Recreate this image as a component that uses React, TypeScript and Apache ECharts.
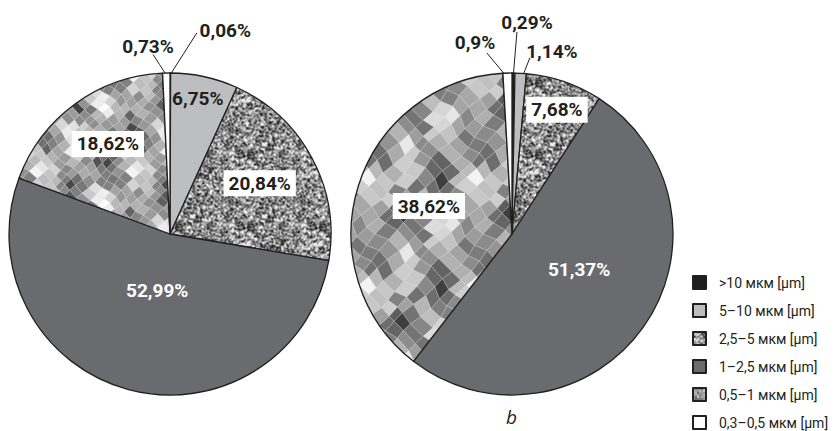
import React, { useEffect, useRef } from "react";
import * as echarts from "echarts";

// Particle size classes (clockwise from 12 o'clock)
const sizeClasses = [
  ">10 мкм [µm]",
  "5–10 мкм [µm]",
  "2,5–5 мкм [µm]",
  "1–2,5 мкм [µm]",
  "0,5–1 мкм [µm]",
  "0,3–0,5 мкм [µm]",
];

// Mass fractions, %
const sampleA = [0.06, 6.75, 20.84, 52.99, 18.62, 0.73];
const sampleB = [0.29, 1.14, 7.68, 51.37, 38.62, 0.9];

const panelCaption = "b";

// ---- layout / style (not data) ----
const PIE_RADIUS = 161;
const centers: [number, number][] = [
  [170, 234],
  [512, 234],
];

type Kind = "outer" | "plain" | "boxed" | "light";
const labelKinds: Kind[][] = [
  ["outer", "plain", "boxed", "light", "boxed", "outer"],
  ["outer", "outer", "boxed", "light", "boxed", "outer"],
];

// label centre in polar form (angle from 12 o'clock, clockwise; radius as fraction of R)
type Placement = { a: number; r: number; line?: [number, number][] };
const placements: Placement[][] = [
  [
    { a: 15.2, r: 1.31, line: [[0.1, 0.99], [7.6, 1.26]] },
    { a: 11.6, r: 0.86 },
    { a: 60.5, r: 0.64 },
    { a: 192.8, r: 0.36 },
    { a: 325.4, r: 0.68 },
    { a: 353.3, r: 1.17, line: [[358.6, 0.99], [354.6, 1.12]] },
  ],
  [
    { a: 4.05, r: 1.32, line: [[0.5, 0.99], [1.4, 1.255]] },
    { a: 12.3, r: 1.163, line: [[3.0, 0.94], [5.8, 1.1]] },
    { a: 19.9, r: 0.82 },
    { a: 117.6, r: 0.47 },
    { a: 288.6, r: 0.545 },
    { a: 349.1, r: 1.214, line: [[357.5, 0.99], [352.1, 1.135]] },
  ],
];

const INK = "#231f20";
const LABEL_FONT = "'Roboto', 'Noto Sans', sans-serif";
const LEGEND_FONT = "'Roboto', 'Noto Sans', sans-serif";

function polar(c: [number, number], deg: number, k: number): [number, number] {
  const t = (deg * Math.PI) / 180;
  return [c[0] + Math.sin(t) * k * PIE_RADIUS, c[1] - Math.cos(t) * k * PIE_RADIUS];
}

// deterministic hash for texture grain
function hash(x: number, y: number, seed: number): number {
  let h = Math.imul(x, 374761393) ^ Math.imul(y, 668265263) ^ Math.imul(seed, 982451653);
  h = Math.imul(h ^ (h >>> 13), 1274126177);
  h = h ^ (h >>> 16);
  return (h >>> 0) / 4294967296;
}

// soft grey grain for the 2,5–5 µm class
function noiseTexture(seed: number): HTMLCanvasElement {
  const n = 72;
  const cv = document.createElement("canvas");
  cv.width = n;
  cv.height = n;
  const ctx = cv.getContext("2d")!;
  const raw: number[][] = [];
  for (let i = 0; i < n; i++) {
    raw.push([]);
    for (let j = 0; j < n; j++) raw[i].push(hash(i, j, seed));
  }
  const w = (v: number) => (v + n) % n;
  const img = ctx.createImageData(n, n);
  for (let i = 0; i < n; i++) {
    for (let j = 0; j < n; j++) {
      let s = 0;
      let wt = 0;
      for (let di = -1; di <= 1; di++) {
        for (let dj = -1; dj <= 1; dj++) {
          const k = di === 0 && dj === 0 ? 2 : di === 0 || dj === 0 ? 1 : 0.5;
          s += raw[w(i + di)][w(j + dj)] * k;
          wt += k;
        }
      }
      s /= wt;
      const g = Math.max(45, Math.min(240, Math.round(140 + (s - 0.5) * 4.4 * 100)));
      const p = (j * n + i) * 4;
      img.data[p] = g;
      img.data[p + 1] = g;
      img.data[p + 2] = g;
      img.data[p + 3] = 255;
    }
  }
  ctx.putImageData(img, 0, 0);
  return cv;
}

// gently warped, faceted diamond mosaic for the 0,5–1 µm class
function quiltTexture(d: number, cells: number, seed: number): HTMLCanvasElement {
  const h = d / 2;
  const W = d * cells;
  const cv = document.createElement("canvas");
  cv.width = W;
  cv.height = W;
  const ctx = cv.getContext("2d")!;
  ctx.fillStyle = "#9a9a9a";
  ctx.fillRect(0, 0, W, W);
  const TAU = Math.PI * 2;
  const warp = (x: number, y: number): [number, number] => [
    x + 0.3 * h * Math.sin(TAU * (x + 2 * y) / W) + 0.15 * h * Math.sin(TAU * (2 * x - y) / W + 0.7),
    y + 0.32 * h * Math.sin(TAU * (2 * x + y) / W + 1.9) + 0.12 * h * Math.cos(TAU * (x - y) / W),
  ];
  const lim = Math.ceil(W / h) + 4;
  for (let a = -lim; a <= lim; a++) {
    for (let b = -lim; b <= lim; b++) {
      const cx = (a - b) * h;
      const cy = (a + b + 1) * h;
      if (cx < -3 * h || cx > W + 3 * h || cy < -3 * h || cy > W + 3 * h) continue;
      const wx = ((cx % W) + W) % W;
      const wy = ((cy % W) + W) % W;
      const u = wx / W;
      const v = wy / W;
      let val =
        0.5 +
        0.2 * Math.sin(TAU * (u + v)) +
        0.15 * Math.sin(TAU * (2 * u - v) + 1.3) +
        0.1 * Math.cos(TAU * (u - 2 * v)) +
        (hash(Math.round(wx / h), Math.round(wy / h), seed) - 0.5) * 0.42;
      val = Math.max(0, Math.min(1, val));
      const g = Math.round(62 + val * 190);
      const pts = [
        warp((a - b) * h, (a + b) * h),
        warp((a + 1 - b) * h, (a + b + 1) * h),
        warp((a - b) * h, (a + b + 2) * h),
        warp((a - b - 1) * h, (a + b + 1) * h),
      ];
      ctx.beginPath();
      ctx.moveTo(pts[0][0], pts[0][1]);
      for (let k = 1; k < 4; k++) ctx.lineTo(pts[k][0], pts[k][1]);
      ctx.closePath();
      ctx.fillStyle = `rgb(${g},${g},${g})`;
      ctx.fill();
      ctx.strokeStyle = "rgba(255,255,255,0.3)";
      ctx.lineWidth = 0.8;
      ctx.stroke();
    }
  }
  return cv;
}

// small mottled swatch used as the legend key of the mosaic class
function swatchTexture(): HTMLCanvasElement {
  const n = 13;
  const cv = document.createElement("canvas");
  cv.width = n;
  cv.height = n;
  const ctx = cv.getContext("2d")!;
  for (let i = 0; i < n; i++) {
    for (let j = 0; j < n; j++) {
      const g = Math.round(150 + (hash(i >> 1, j >> 1, 11) - 0.5) * 90);
      ctx.fillStyle = `rgb(${g},${g},${g})`;
      ctx.fillRect(i, j, 1, 1);
    }
  }
  return cv;
}

function fmt(v: number): string {
  return String(v).replace(".", ",") + "%";
}

function labelStyle(kind: Kind) {
  const base = {
    fontFamily: LABEL_FONT,
    fontWeight: "bold" as const,
    fontSize: 19,
    color: INK,
  };
  if (kind === "boxed") return { ...base, backgroundColor: "#fff", padding: [4, 5, 3, 5] };
  if (kind === "light") return { ...base, color: "#fff" };
  return base;
}

export default function App() {
  const ref = useRef<HTMLDivElement>(null);

  useEffect(() => {
    if (!ref.current) return;
    const chart = echarts.init(ref.current, undefined, { renderer: "svg" });

    const noise = noiseTexture(7);
    const quilts = [quiltTexture(12, 8, 3), quiltTexture(18, 6, 5)];
    const swatch = swatchTexture();

    const fillsFor = (s: number) => [
      "#1f1d1e",
      "#bdbec0",
      { image: noise, repeat: "repeat" },
      "#6a6b6f",
      { image: quilts[s], repeat: "repeat" },
      "#ffffff",
    ];

    const samples = [sampleA, sampleB];

    const series = samples.map((vals, s) => ({
      type: "pie",
      center: centers[s],
      radius: PIE_RADIUS,
      startAngle: 90,
      clockwise: true,
      avoidLabelOverlap: false,
      emphasis: { disabled: true },
      itemStyle: { borderColor: INK, borderWidth: 1.3 },
      labelLine: { lineStyle: { color: INK, width: 1 } },
      data: vals.map((v, i) => {
        const kind = labelKinds[s][i];
        return {
          name: sizeClasses[i],
          value: v,
          itemStyle: { color: fillsFor(s)[i] },
          label: {
            show: true,
            position: kind === "outer" ? "outside" : "inside",
            formatter: () => fmt(v),
            ...labelStyle(kind),
          },
          labelLine: { show: kind === "outer", length: 10, length2: 10 },
        };
      }),
      labelLayout: (p: any) => {
        const cfg = placements[s][p.dataIndex];
        const c = centers[s];
        const pt = polar(c, cfg.a, cfg.r);
        const out: any = { x: pt[0], y: pt[1], align: "center", verticalAlign: "middle" };
        if (cfg.line) {
          const a = polar(c, cfg.line[0][0], cfg.line[0][1]);
          const b = polar(c, cfg.line[1][0], cfg.line[1][1]);
          out.labelLinePoints = [a, [(a[0] + b[0]) / 2, (a[1] + b[1]) / 2], b];
        }
        return out;
      },
    }));

    chart.setOption({
      animation: false,
      backgroundColor: "#ffffff",
      legend: {
        orient: "vertical",
        left: 692,
        top: 275,
        padding: 0,
        icon: "rect",
        itemWidth: 13,
        itemHeight: 13,
        itemGap: 13,
        selectedMode: false,
        data: sizeClasses.map((name, i) =>
          i === 4
            ? { name, itemStyle: { color: { image: swatch, repeat: "repeat" } } }
            : { name }
        ),
        formatter: (name: string) => `{g|}${name}`,
        textStyle: {
          fontFamily: LEGEND_FONT,
          fontSize: 14,
          color: INK,
          rich: { g: { width: 8 } },
        },
      },
      title: {
        text: panelCaption,
        left: 506,
        top: 407,
        textStyle: {
          fontFamily: "'Open Sans', sans-serif",
          fontStyle: "italic",
          fontWeight: "normal",
          fontSize: 19,
          color: INK,
        },
        padding: 0,
      },
      series,
    } as any);

    return () => chart.dispose();
  }, []);

  return (
    <div
      ref={ref}
      style={{ position: "absolute", left: 0, top: 0, width: 834, height: 431 }}
    />
  );
}
